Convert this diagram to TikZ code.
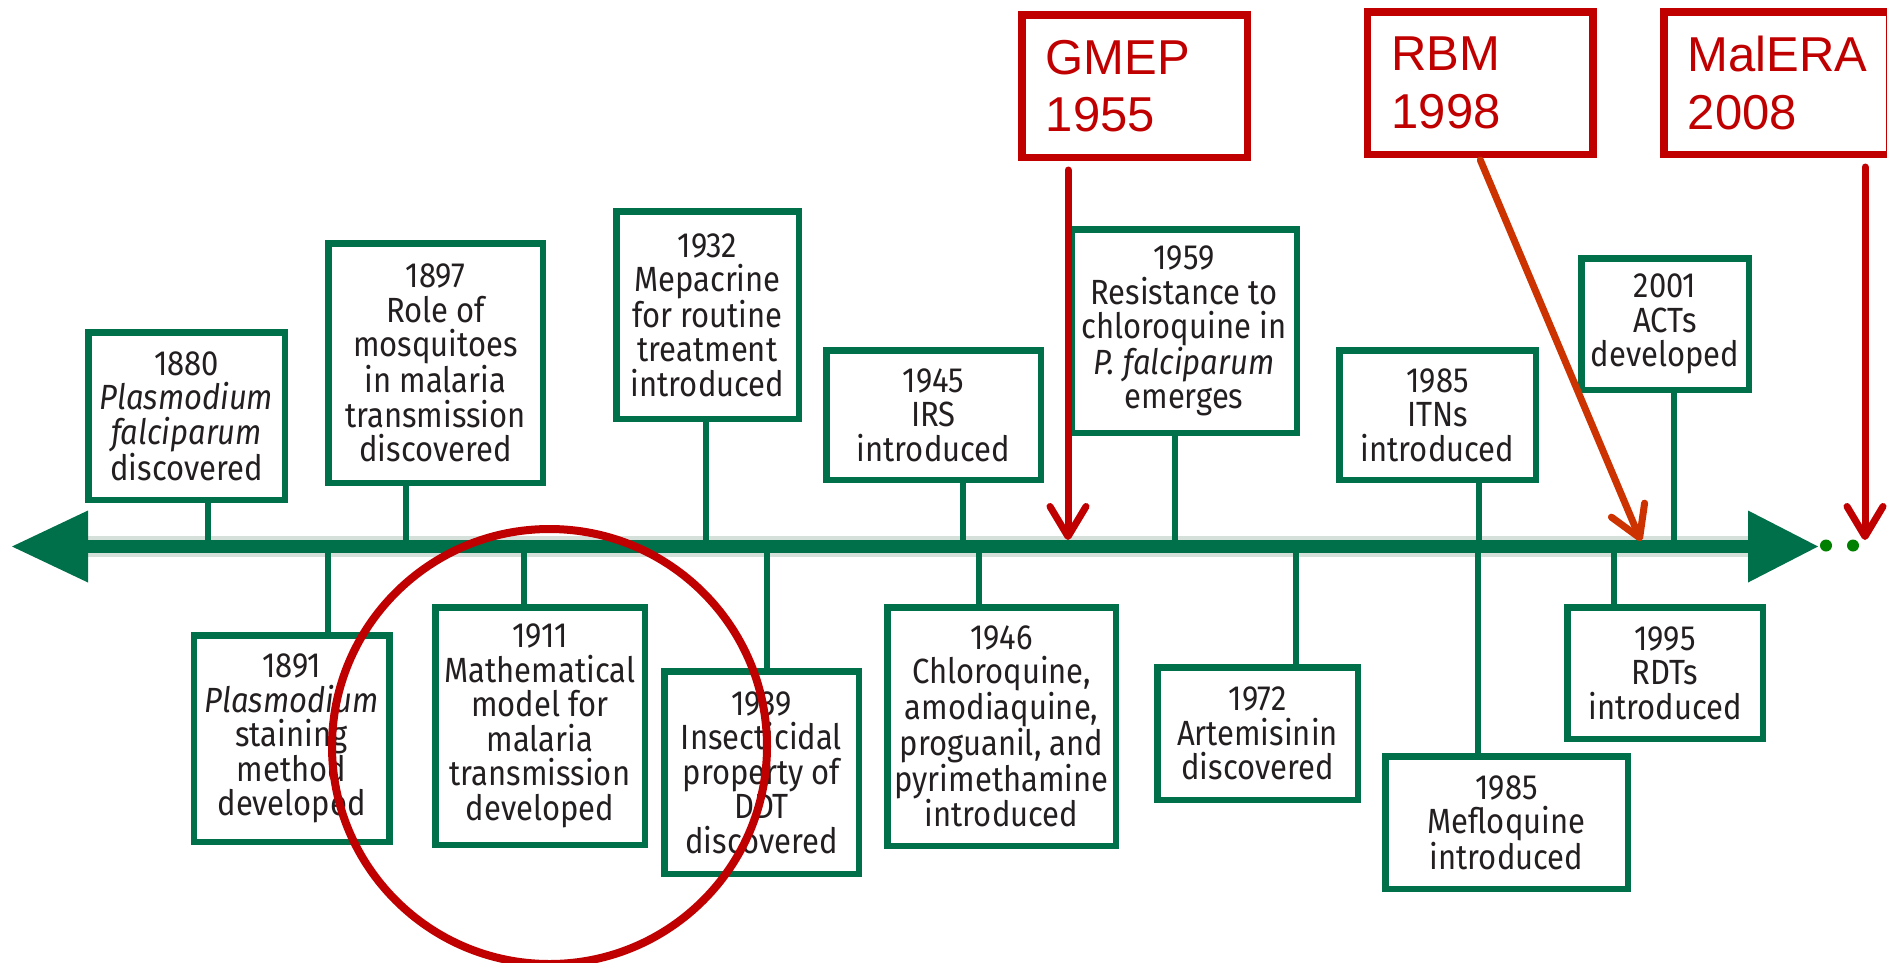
\documentclass[tikz,border=0pt]{standalone}
\usepackage{fontspec}
\setmainfont{Liberation Sans}
\newfontfamily\boxfont[FakeStretch=0.885]{Fira Sans}
\usetikzlibrary{arrows.meta}
\definecolor{tlgreen}{RGB}{0,112,74}
\definecolor{halo}{RGB}{214,224,219}
\definecolor{dred}{RGB}{192,0,0}
\definecolor{ored}{RGB}{204,51,0}
\definecolor{dotgreen}{RGB}{0,128,0}
\definecolor{txt}{RGB}{35,31,32}
\begin{document}
\begin{tikzpicture}[x=1pt,y=-1pt,
  gbox/.style={draw=tlgreen, line width=6.5pt, fill=white, inner sep=0pt, align=center,
    font=\boxfont\fontsize{35}{34.5}\selectfont, text=txt},
  rbox/.style={draw=dred, line width=7.5pt, fill=white, inner xsep=24pt, inner ysep=0pt,
    text width=177.5pt, align=left, minimum height=142.5pt,
    font=\fontsize{49}{57.5}\selectfont, text=dred},
  stem/.style={draw=tlgreen, line width=6pt},
  redarrow/.style={line width=7pt, line cap=round, -{Straight Barb[length=30pt,width=36pt,round]}}
]
\clip (0,0) rectangle (1887,962);
\fill[white] (0,0) rectangle (1887,962);

% bar coordinates
\coordinate (barL) at (88,546.5);
\coordinate (barR) at (1748,546.5);
\coordinate (s1880) at (207.6,546.5);
\coordinate (s1897) at (406.3,546.5);
\coordinate (s1932) at (705.5,546.5);
\coordinate (s1945) at (962.5,546.5);
\coordinate (s1959) at (1175,546.5);
\coordinate (sITN) at (1478.5,546.5);
\coordinate (sACT) at (1673.6,546.5);
\coordinate (s1891) at (328.3,546.5);
\coordinate (s1911) at (524.3,546.5);
\coordinate (s1939) at (766.6,546.5);
\coordinate (s1946) at (979.3,546.5);
\coordinate (s1972) at (1296,546.5);
\coordinate (sMEF) at (1478.3,546.5);
\coordinate (s1995) at (1613.7,546.5);

% halo of the bar
\draw[halo, line width=21pt] (barL) -- (barR);

% boxes above
\node[gbox, minimum width=196.5pt, minimum height=167.5pt] (b1880) at (186.5,416)
  {1880\\\textit{Plasmodium}\\\textit{falciparum}\\discovered};
\node[gbox, minimum width=214.5pt, minimum height=239.5pt] (b1897) at (435.5,363)
  {1897\\Role of\\mosquitoes\\in malaria\\transmission\\discovered};
\node[gbox, minimum width=182.5pt, minimum height=207.5pt] (b1932) at (707.5,315)
  {1932\\Mepacrine\\for routine\\treatment\\introduced};
\node[gbox, minimum width=214.5pt, minimum height=129.5pt] (b1945) at (933.5,415)
  {1945\\IRS\\introduced};
\node[gbox, minimum width=225.5pt, minimum height=203.5pt] (b1959) at (1184,331)
  {1959\\Resistance to\\chloroquine in\\\textit{P. falciparum}\\emerges};
\node[gbox, minimum width=196.5pt, minimum height=129.5pt] (bITN) at (1437.5,415)
  {1985\\ITNs\\introduced};
\node[gbox, minimum width=167.5pt, minimum height=131.5pt] (bACT) at (1665,324)
  {2001\\ACTs\\developed};

% boxes below
\node[gbox, minimum width=195.5pt, minimum height=206.5pt] (b1891) at (291.6,738.5)
  {1891\\\textit{Plasmodium}\\staining\\method\\developed};
\node[gbox, minimum width=209.5pt, minimum height=237.5pt] (b1911) at (540,726)
  {1911\\Mathematical\\model for\\malaria\\transmission\\developed};
\node[gbox, minimum width=194.5pt, minimum height=202.5pt] (b1939) at (761.5,772.5)
  {1939\\Insecticidal\\property of\\DDT\\discovered};
\node[gbox, minimum width=228.5pt, minimum height=238.5pt] (b1946) at (1001.5,726.5)
  {1946\\Chloroquine,\\amodiaquine,\\proguanil, and\\pyrimethamine\\introduced};
\node[gbox, minimum width=200.5pt, minimum height=132.5pt] (b1972) at (1257.5,733.5)
  {1972\\Artemisinin\\discovered};
\node[gbox, minimum width=242.5pt, minimum height=132.5pt] (bMEF) at (1506.5,822.5)
  {1985\\Mefloquine\\introduced};
\node[gbox, minimum width=195.5pt, minimum height=131.5pt] (b1995) at (1665,673)
  {1995\\RDTs\\introduced};

% stems
\foreach \n in {1880,1897,1932,1945,1959,ITN,ACT}
  \draw[stem] (b\n.south -| s\n) -- (s\n);
\foreach \n in {1891,1911,1939,1946,1972,MEF,1995}
  \draw[stem] (b\n.north -| s\n) -- (s\n);

% the bar and its heads
\draw[tlgreen, line width=13.5pt] (barL) -- (barR);
\fill[tlgreen] (12,546.5) -- (barL |- 0,510.5) -- (barL |- 0,582.5) -- cycle;
\fill[tlgreen] (1818,546.5) -- (barR |- 0,510.5) -- (barR |- 0,582.5) -- cycle;
\fill[dotgreen] (1826,545.5) circle[radius=6];
\fill[dotgreen] (1853,545.5) circle[radius=6];

% red boxes
\node[rbox, minimum width=225.5pt] (gmep) at (1134.5,86) {GMEP\\1955};
\node[rbox, minimum width=225.5pt] (rbm) at (1480.3,83) {RBM\\1998};
\node[rbox, minimum width=225.5pt] (malera) at (1776.5,83) {MalERA\\2008};

% red arrows
\coordinate (gT) at (1068,540);
\coordinate (rT) at (1641,541);
\coordinate (mT) at (1865,540);
\draw[redarrow, dred] ([yshift=-9pt]gmep.south -| gT) -- (gT);
\draw[redarrow, ored] ([yshift=-2pt]rbm.south) -- (rT);
\draw[redarrow, dred] ([yshift=-9pt]malera.south -| mT) -- (mT);

% circle round the 1911 box
\draw[dred, line width=8pt] (549.5,746.5) circle[radius=217.5];
\end{tikzpicture}
\end{document}
